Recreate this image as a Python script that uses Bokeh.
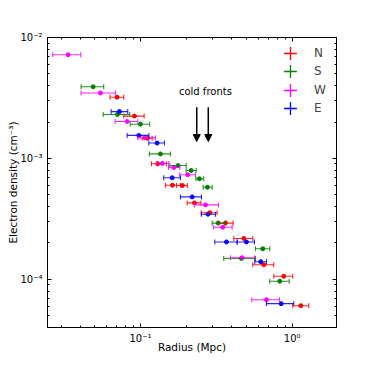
import numpy as np
from bokeh.plotting import figure
from bokeh.models import (ColumnDataSource, Whisker, TeeHead, Range1d, LogAxis, FixedTicker,
                          CustomJSTickFormatter, Legend, LegendItem, Arrow, NormalHead, Label)
from bokeh.embed import file_html
from bokeh.resources import INLINE

# ---- data (radius in Mpc, electron density in cm^-3) ----
names = ["N", "S", "W", "E"]
colors = ["#ff0000", "#008000", "#ff00ff", "#0000ff"]

r_N = [0.0702, 0.0913, 0.1112, 0.1300, 0.1625, 0.1892, 0.2270, 0.2862, 0.3634, 0.4797, 0.6498, 0.8804, 1.140]
lo_N = [0.0631, 0.0776, 0.1026, 0.1182, 0.1461, 0.1727, 0.2031, 0.2513, 0.3282, 0.4121, 0.5499, 0.7562, 1.009]
hi_N = [0.0776, 0.1058, 0.1194, 0.1483, 0.1835, 0.2040, 0.2505, 0.3203, 0.4084, 0.5499, 0.7562, 1.009, 1.287]
ne_N = [3.21e-3, 2.24e-3, 1.47e-3, 9.04e-4, 6.00e-4, 5.97e-4, 4.29e-4, 3.56e-4, 2.92e-4, 2.18e-4, 1.32e-4, 1.06e-4, 6.06e-5]

r_S = [0.0488, 0.0705, 0.1000, 0.1355, 0.1772, 0.2159, 0.2448, 0.2765, 0.3252, 0.4633, 0.6400, 0.8286]
lo_S = [0.0406, 0.0568, 0.0855, 0.1146, 0.1560, 0.2001, 0.2322, 0.2590, 0.2969, 0.3541, 0.5729, 0.7117]
hi_S = [0.0573, 0.0850, 0.1152, 0.1576, 0.2001, 0.2329, 0.2614, 0.2969, 0.3634, 0.5729, 0.7117, 0.9555]
ne_S = [3.91e-3, 2.31e-3, 1.92e-3, 1.09e-3, 8.75e-4, 7.95e-4, 6.79e-4, 5.78e-4, 2.92e-4, 1.49e-4, 1.79e-4, 9.66e-5]

r_W = [0.0334, 0.0545, 0.0817, 0.1071, 0.1396, 0.1658, 0.2050, 0.2683, 0.3487, 0.4682, 0.677]
lo_W = [0.0264, 0.0406, 0.0681, 0.0960, 0.1275, 0.1530, 0.1816, 0.2270, 0.3042, 0.392, 0.5415]
hi_W = [0.0404, 0.0684, 0.0960, 0.1256, 0.1537, 0.1816, 0.2305, 0.3267, 0.4022, 0.5642, 0.825]
ne_W = [7.20e-3, 3.48e-3, 2.02e-3, 1.48e-3, 9.09e-4, 8.42e-4, 7.32e-4, 4.13e-4, 2.70e-4, 1.51e-4, 6.79e-5]

r_E = [0.0727, 0.0975, 0.1288, 0.1618, 0.2192, 0.2786, 0.3689, 0.4998, 0.6209, 0.8463]
lo_E = [0.0641, 0.0817, 0.1134, 0.1424, 0.1835, 0.2524, 0.3088, 0.4340, 0.5668, 0.677]
hi_E = [0.0825, 0.1138, 0.1439, 0.1835, 0.2524, 0.3121, 0.4340, 0.5642, 0.677, 1.025]
ne_E = [2.44e-3, 1.55e-3, 1.34e-3, 6.92e-4, 4.81e-4, 3.46e-4, 2.04e-4, 2.04e-4, 1.40e-4, 6.30e-5]

cold_front_r = [0.235, 0.28]
arrow_ne_start = 2.65e-3
arrow_ne_end = 1.38e-3
cold_label = "cold fronts"
cold_label_pos = (0.268, 3.6e-3)

x_major = [0.1, 1.0]
y_major = [1e-4, 1e-3, 1e-2]

series = {
    "N": (r_N, lo_N, hi_N, ne_N),
    "S": (r_S, lo_S, hi_S, ne_S),
    "W": (r_W, lo_W, hi_W, ne_W),
    "E": (r_E, lo_E, hi_E, ne_E),
}

xr = (0.0244, 1.96)
yr = (4e-5, 1e-2)

p = figure(width=374, height=374, x_axis_type="log", y_axis_type="log",
           x_range=Range1d(*xr), y_range=Range1d(*yr),
           output_backend="svg", toolbar_location=None,
           min_border_left=47, min_border_right=38, min_border_top=37, min_border_bottom=47)
p.xgrid.visible = False
p.ygrid.visible = False
p.outline_line_color = "black"
p.outline_line_width = 1
p.background_fill_color = "white"
p.border_fill_color = "white"

def minor_list(lo, hi):
    out = []
    for k in range(int(np.floor(np.log10(lo))) - 1, int(np.ceil(np.log10(hi))) + 1):
        for m in range(2, 10):
            v = m * 10.0 ** k
            if lo < v < hi:
                out.append(v)
    return out

xt = FixedTicker(ticks=x_major, minor_ticks=minor_list(*xr))
yt = FixedTicker(ticks=y_major, minor_ticks=minor_list(*yr))

fmt = CustomJSTickFormatter(code="""
const e = Math.round(Math.log10(tick));
const sup = {'-':'\u207b','0':'\u2070','1':'\u00b9','2':'\u00b2','3':'\u00b3','4':'\u2074',
             '5':'\u2075','6':'\u2076','7':'\u2077','8':'\u2078','9':'\u2079'};
return '10' + String(e).split('').map(c => sup[c]).join('');
""")

def style_axis(ax):
    ax.major_tick_in = 4
    ax.major_tick_out = 0
    ax.minor_tick_in = 2
    ax.minor_tick_out = 0
    ax.axis_line_color = "black"
    ax.major_tick_line_color = "black"
    ax.minor_tick_line_color = "black"
    ax.major_label_text_font = "DejaVu Sans"
    ax.major_label_text_font_size = "10px"
    ax.major_label_text_color = "black"
    ax.axis_label_text_font = "DejaVu Sans"
    ax.axis_label_text_font_size = "10.5px"
    ax.axis_label_text_font_style = "normal"
    ax.axis_label_text_color = "black"

for ax in p.xaxis:
    ax.ticker = xt
    ax.formatter = fmt
    style_axis(ax)
    ax.axis_label = "Radius (Mpc)"
    ax.major_label_standoff = 5
    ax.axis_label_standoff = -6
for ax in p.yaxis:
    ax.ticker = yt
    ax.formatter = fmt
    style_axis(ax)
    ax.axis_label = "Electron density (cm\u207b\u00b3)"
    ax.major_label_standoff = 5
    ax.axis_label_standoff = -2

blank = CustomJSTickFormatter(code="return '';")
top = LogAxis(ticker=xt, formatter=blank)
style_axis(top)
top.major_label_text_font_size = "0px"
top.major_label_standoff = 0
right = LogAxis(ticker=yt, formatter=blank)
style_axis(right)
right.major_label_text_font_size = "0px"
right.major_label_standoff = 0
p.add_layout(top, "above")
p.add_layout(right, "right")

legend_items = []
for name, color in zip(names, colors):
    r, lo, hi, ne = series[name]
    src = ColumnDataSource(dict(r=r, lo=lo, hi=hi, ne=ne))
    w = Whisker(source=src, base="ne", lower="lo", upper="hi", dimension="width",
                line_color=color, line_width=1.1, line_alpha=0.85, level="glyph",
                lower_head=TeeHead(size=5, line_color=color, line_width=1.1, line_alpha=0.85),
                upper_head=TeeHead(size=5, line_color=color, line_width=1.1, line_alpha=0.85))
    p.add_layout(w)
    p.scatter("r", "ne", source=src, size=4, marker="circle", color=color)
    leg = p.scatter(x=[np.nan], y=[np.nan], marker="cross", size=12,
                    line_color=color, line_width=1.3)
    legend_items.append(LegendItem(label=name, renderers=[leg]))

# one single-entry legend per series, stacked 18 px apart (frame-relative pixels)
legend_left = 227
legend_bottoms = [258, 240, 221, 203]
for item, vy in zip(legend_items, legend_bottoms):
    lg = Legend(items=[item], location=(legend_left, vy), glyph_width=32, glyph_height=32,
                label_height=18, spacing=0, padding=0, margin=0, label_standoff=8,
                border_line_color=None, background_fill_alpha=0,
                label_text_font="DejaVu Sans", label_text_font_size="12px")
    p.add_layout(lg)

for xc in cold_front_r:
    p.add_layout(Arrow(x_start=xc, y_start=arrow_ne_start, x_end=xc, y_end=arrow_ne_end,
                       line_color="black", line_width=1.5,
                       end=NormalHead(size=7, fill_color="black", line_color="black", line_width=1)))

p.add_layout(Label(x=cold_label_pos[0], y=cold_label_pos[1], text=cold_label,
                   text_align="center", text_baseline="middle",
                   text_font="DejaVu Sans", text_font_size="10px", text_color="black"))

open("out.html", "w").write(file_html(p, INLINE))
